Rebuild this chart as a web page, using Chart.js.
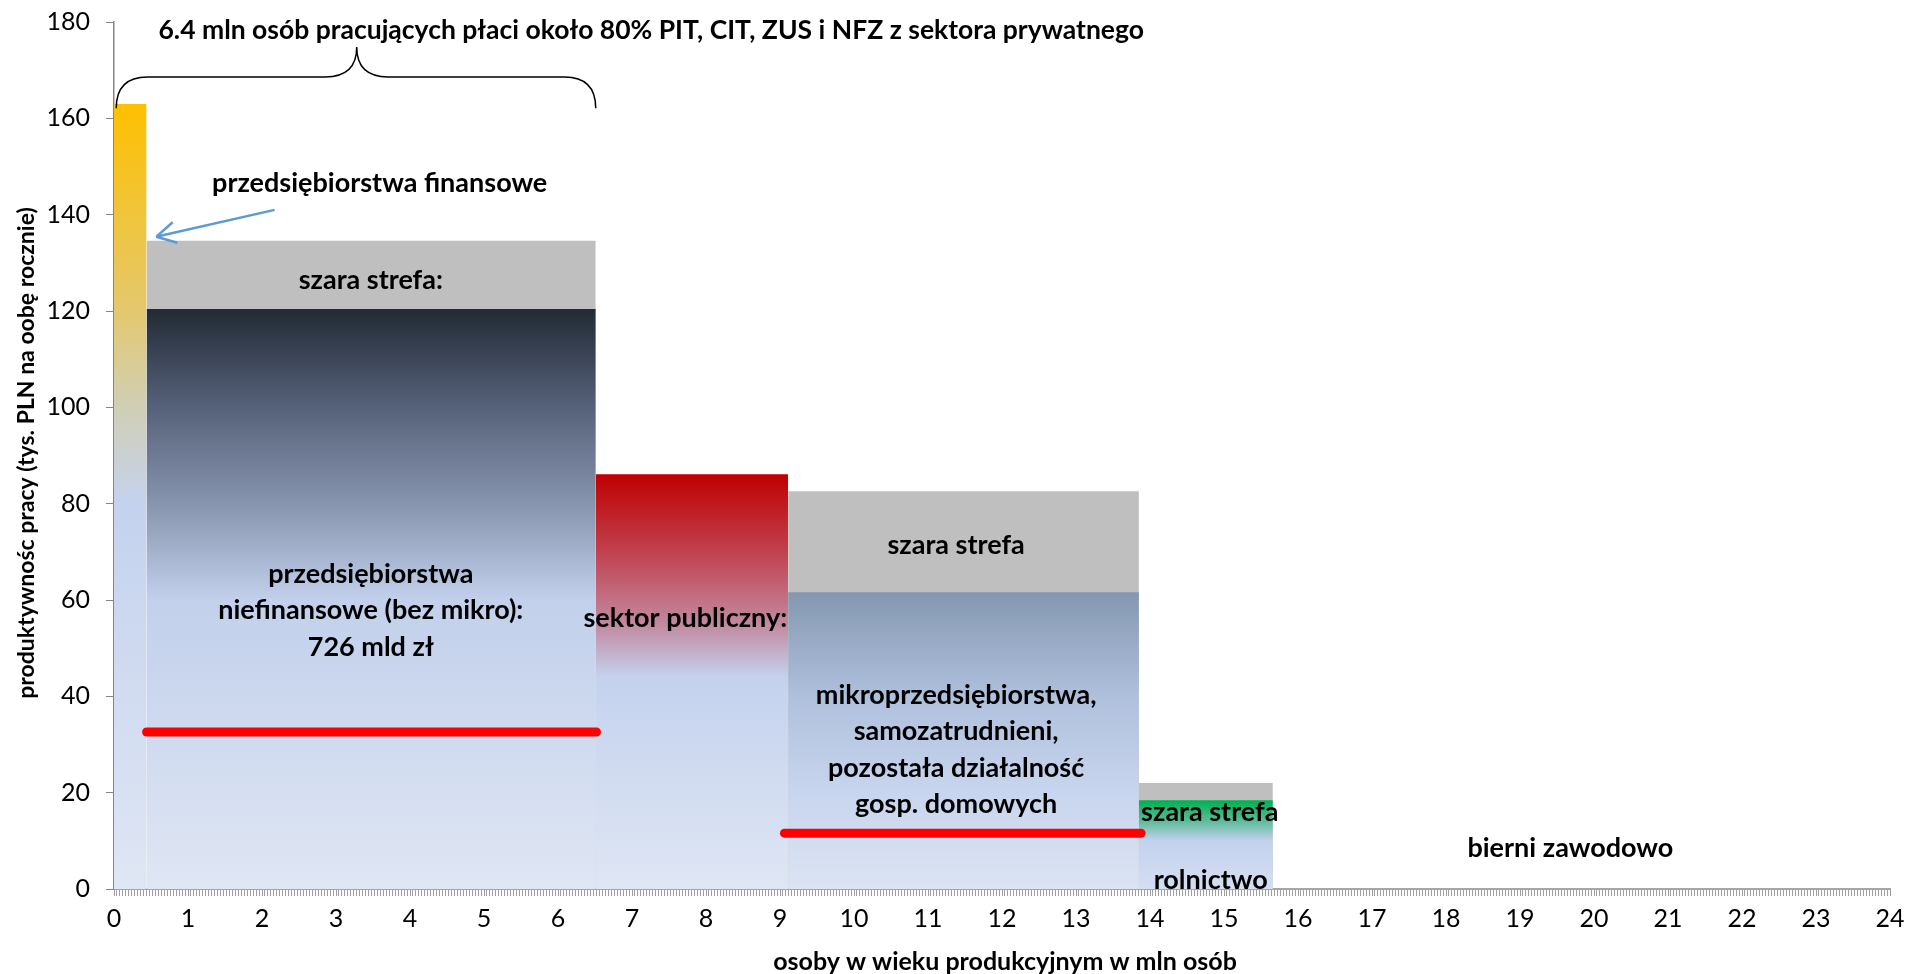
<!DOCTYPE html>
<html>
<head>
<meta charset="utf-8">
<script src="https://cdn.jsdelivr.net/npm/chart.js@4/dist/chart.umd.min.js"></script>
<style>
  html, body { margin: 0; padding: 0; background: #ffffff; }
  #wrap { width: 1908px; height: 974px; }
</style>
</head>
<body>
<div id="wrap"><canvas id="myChart" width="1908" height="974"></canvas></div>
<script>
// dane (os X: mln osob, os Y: tys. PLN na osobe rocznie)
const sectors = ["przedsiębiorstwa finansowe", "przedsiębiorstwa niefinansowe", "sektor publiczny", "mikroprzedsiębiorstwa", "rolnictwo"];
const blockStart = [0, 0.44, 6.51, 9.11, 13.85];
const blockEnd = [0.44, 6.51, 9.11, 13.85, 15.66];
const productivity = [163, 120.4, 86.1, 61.6, 18.4];
const greyZoneTop = [null, 134.6, null, 82.6, 22.0];
const taxLevel = [null, 32.6, null, 11.6, null];
const taxLineStart = [null, 0.44, null, 9.06, null];
const taxLineEnd = [null, 6.52, null, 13.88, null];

const yTicks = [0, 20, 40, 60, 80, 100, 120, 140, 160, 180];
const xMax = 24;

const headline = "6.4 mln osób pracujących płaci około 80% PIT, CIT, ZUS i NFZ z sektora prywatnego";
const yTitle = "produktywnośc pracy (tys. PLN na oobę rocznie)";
const xTitle = "osoby w wieku produkcyjnym w mln osób";

// gradienty (wartosc na osi Y -> kolor)
const fills = [
  [[163, "#ffc000"], [120, "#e4c86e"], [100, "#d0cfb5"], [80, "#c4d2ee"], [0, "#dfe6f4"]],
  [[120.4, "#222a35"], [100, "#56627a"], [80, "#8794ae"], [60, "#c2d0eb"], [0, "#dfe6f4"]],
  [[86.1, "#c00000"], [70, "#c0414f"], [55, "#c2899f"], [44, "#c4d2ee"], [0, "#dfe6f4"]],
  [[61.6, "#8497b0"], [40, "#afc0dc"], [20, "#c8d5ee"], [0, "#dce4f3"]],
  [[18.4, "#00b050"], [14, "#5fbc9a"], [10, "#c4d2ee"], [0, "#d5def1"]],
];

function gradientFill(stops) {
  return function (context) {
    const chart = context.chart;
    const area = chart.chartArea;
    if (!area) return stops[0][1];
    const y = chart.scales.y;
    const top = stops[0][0];
    const g = chart.ctx.createLinearGradient(0, y.getPixelForValue(top), 0, y.getPixelForValue(0));
    stops.forEach(([v, c]) => g.addColorStop((top - v) / top, c));
    return g;
  };
}

const datasets = [];
// linie podatkowe (na wierzchu)
taxLevel.forEach((v, i) => {
  if (v === null) return;
  datasets.push({
    label: "udział podatków " + sectors[i],
    data: [{ x: taxLineStart[i], y: v }, { x: taxLineEnd[i], y: v }],
    borderColor: "#ff0000",
    borderWidth: 9,
    borderCapStyle: "round",
    pointRadius: 0,
    fill: false,
    order: 0,
  });
});
// glowne bloki
productivity.forEach((v, i) => {
  datasets.push({
    label: sectors[i],
    data: [{ x: blockStart[i], y: v }, { x: blockEnd[i], y: v }],
    borderWidth: 0,
    borderColor: "rgba(0,0,0,0)",
    pointRadius: 0,
    fill: "origin",
    backgroundColor: gradientFill(fills[i]),
    order: 1,
  });
});
// szara strefa
greyZoneTop.forEach((v, i) => {
  if (v === null) return;
  datasets.push({
    label: "szara strefa " + sectors[i],
    data: [{ x: blockStart[i], y: v }, { x: blockEnd[i], y: v }],
    borderWidth: 0,
    borderColor: "rgba(0,0,0,0)",
    pointRadius: 0,
    fill: "origin",
    backgroundColor: "#bfbfbf",
    order: 2,
  });
});

// opisy w ukladzie danych
const notes = [
  { text: ["przedsiębiorstwa finansowe"], x: 3.59, y: 146.6, align: "center" },
  { text: ["szara strefa:"], x: 3.47, y: 126.4, align: "center" },
  { text: ["przedsiębiorstwa", "niefinansowe (bez mikro):", "726 mld zł"], x: 3.47, y: 65.4, align: "center" },
  { text: ["sektor publiczny:"], x: 7.72, y: 56.3, align: "center" },
  { text: ["szara strefa"], x: 11.38, y: 71.4, align: "center" },
  { text: ["mikroprzedsiębiorstwa,", "samozatrudnieni,", "pozostała działalność", "gosp. domowych"], x: 11.38, y: 40.3, align: "center" },
  { text: ["szara strefa"], x: 13.88, y: 16.0, align: "left" },
  { text: ["rolnictwo"], x: 14.82, y: 1.8, align: "center" },
  { text: ["bierni zawodowo"], x: 19.68, y: 8.5, align: "center" },
];
const brace = { from: 0.03, to: 6.51, peak: 3.28, end: 162.1, mid: 168.6, top: 174.8 };
const arrow = { x0: 2.17, y0: 141, x1: 0.57, y1: 135.4 };

const FONT = "Lato, 'Open Sans', sans-serif";

const annotations = {
  id: "annotations",
  afterDatasetsDraw(chart) {
    const { ctx, scales } = chart;
    const px = (v) => scales.x.getPixelForValue(v);
    const py = (v) => scales.y.getPixelForValue(v);
    ctx.save();
    ctx.fillStyle = "#000000";
    ctx.textBaseline = "middle";
    ctx.font = "bold 27px " + FONT;
    notes.forEach((n) => {
      ctx.textAlign = n.align;
      n.text.forEach((line, k) => ctx.fillText(line, px(n.x), py(n.y) + k * 36.5));
    });

    // tytul
    ctx.textAlign = "center";
    ctx.font = "bold 26.5px " + FONT;
    ctx.fillText(headline, px(7.26), py(178.3));

    // klamra
    const L = px(brace.from), R = px(brace.to), P = px(brace.peak);
    const yE = py(brace.end), yM = py(brace.mid), yT = py(brace.top);
    const r = yE - yM;
    ctx.strokeStyle = "#000000";
    ctx.lineWidth = 1.5;
    ctx.beginPath();
    ctx.moveTo(L, yE);
    ctx.quadraticCurveTo(L, yM, L + r, yM);
    ctx.lineTo(P - r, yM);
    ctx.quadraticCurveTo(P, yM, P, yT);
    ctx.quadraticCurveTo(P, yM, P + r, yM);
    ctx.lineTo(R - r, yM);
    ctx.quadraticCurveTo(R, yM, R, yE);
    ctx.stroke();

    // strzalka
    const ax0 = px(arrow.x0), ay0 = py(arrow.y0), ax1 = px(arrow.x1), ay1 = py(arrow.y1);
    const ang = Math.atan2(ay1 - ay0, ax1 - ax0);
    ctx.strokeStyle = "#5b9bd5";
    ctx.lineWidth = 2.5;
    ctx.beginPath();
    ctx.moveTo(ax0, ay0);
    ctx.lineTo(ax1, ay1);
    [0.5, -0.5].forEach((d) => {
      ctx.moveTo(ax1, ay1);
      ctx.lineTo(ax1 - 22 * Math.cos(ang + d), ay1 - 22 * Math.sin(ang + d));
    });
    ctx.stroke();

    // tytuly osi
    ctx.fillStyle = "#000000";
    ctx.textAlign = "center";
    ctx.font = "bold 25px " + FONT;
    ctx.fillText(xTitle, 1005, 962);
    ctx.font = "bold 23px " + FONT;
    ctx.translate(27, 453);
    ctx.rotate(-Math.PI / 2);
    ctx.fillText(yTitle, 0, 0);
    ctx.restore();
  },
};

new Chart(document.getElementById("myChart"), {
  type: "line",
  data: { datasets: datasets },
  options: {
    responsive: false,
    animation: false,
    devicePixelRatio: 1,
    layout: { padding: { top: 22, right: 18, left: 0, bottom: 0 } },
    plugins: {
      legend: { display: false },
      tooltip: { enabled: false },
      filler: { propagate: false },
    },
    scales: {
      x: {
        type: "linear",
        min: 0,
        max: xMax,
        afterFit: (s) => { s.height = 85; s.paddingLeft = 0; s.paddingRight = 0; },
        border: { color: "#a6a6a6", width: 2 },
        grid: { drawOnChartArea: false, drawTicks: true, tickLength: 7, color: "#a0a0a0", lineWidth: 1 },
        ticks: {
          stepSize: 0.04,
          maxTicksLimit: 1000,
          autoSkip: false,
          maxRotation: 0,
          padding: 8,
          color: "#000000",
          font: { family: FONT, size: 25 },
          callback: (v) => (Math.abs(v - Math.round(v)) < 1e-6 ? String(Math.round(v)) : ""),
        },
      },
      y: {
        min: yTicks[0],
        max: yTicks[yTicks.length - 1],
        afterFit: (s) => { s.width = 114; s.paddingTop = 0; s.paddingBottom = 0; },
        afterBuildTicks: (s) => { s.ticks = yTicks.map((v) => ({ value: v })); },
        border: { color: "#868686", width: 1.5 },
        grid: { drawOnChartArea: false, drawTicks: true, tickLength: 8, color: "#868686" },
        ticks: {
          padding: 16,
          color: "#000000",
          font: { family: FONT, size: 25 },
        },
      },
    },
  },
  plugins: [annotations],
});
</script>
</body>
</html>
